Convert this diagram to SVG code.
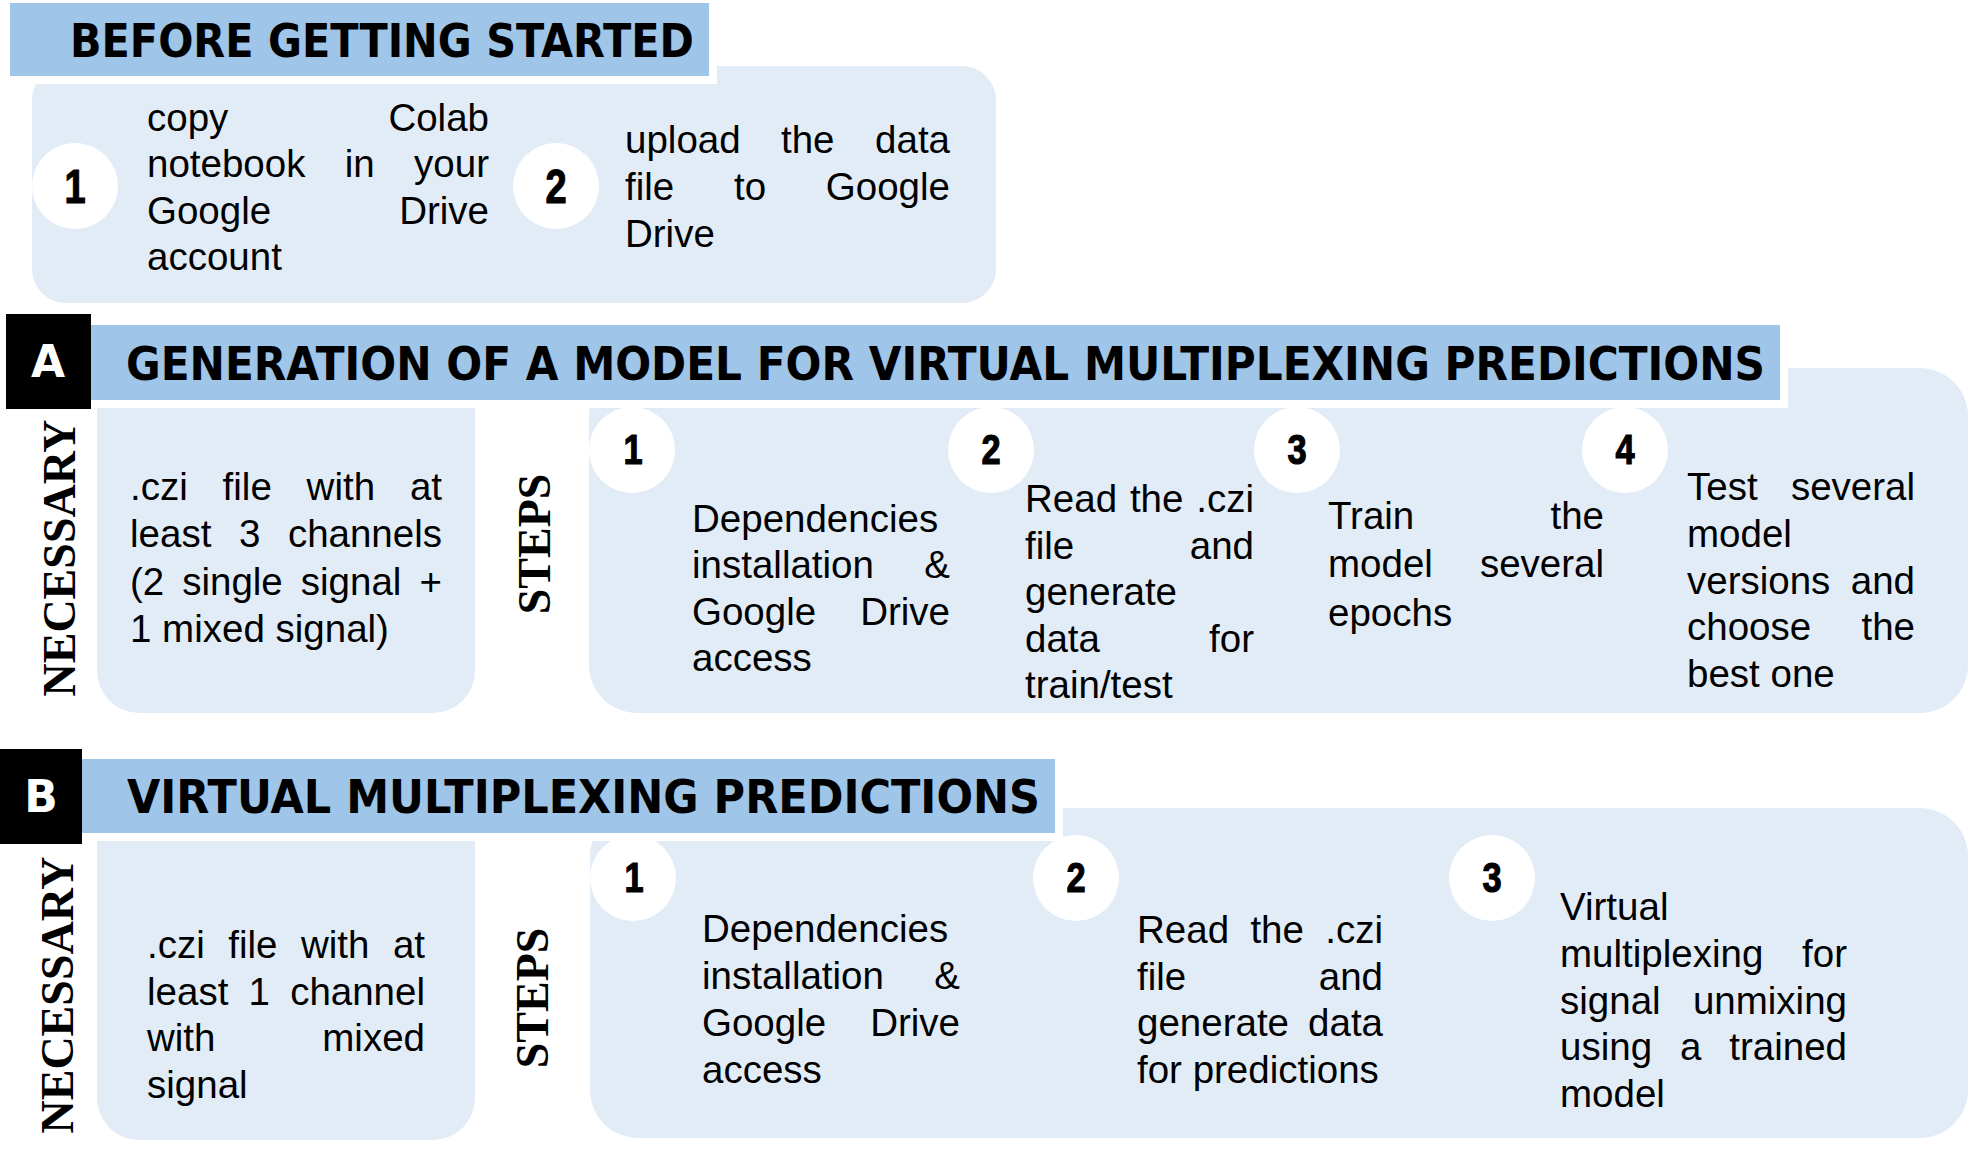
<svg xmlns="http://www.w3.org/2000/svg" width="1976" height="1150" viewBox="0 0 1976 1150">
<style>
.bg{fill:#ffffff}
.box{fill:#E2ECF7}
.ban{fill:#9FC5E8}
.wb{fill:#ffffff}
.blk{fill:#000000}
.circ{fill:#ffffff}
.t{font-family:"Liberation Sans",Arial,sans-serif;font-size:38.5px;fill:#000}
.e{text-anchor:end}
.hd{font-family:"DejaVu Sans",Verdana,sans-serif;font-weight:bold;font-size:46px;fill:#000}
.lt{font-family:"DejaVu Sans",Verdana,sans-serif;font-weight:bold;font-size:44px;fill:#fff;text-anchor:middle}
.vt{font-family:"Liberation Serif","Times New Roman",serif;font-weight:bold;font-size:46px;fill:#000;text-anchor:middle}
.num{font-family:"Liberation Sans",Arial,sans-serif;font-weight:bold;font-size:43px;fill:#000;stroke:#000;stroke-width:1.2;text-anchor:middle}
.numb{font-size:47.5px}
</style>
<rect class="bg" x="0" y="0" width="1976" height="1150"/>

<!-- BEFORE GETTING STARTED -->
<g id="before-box">
  <rect class="box" x="32" y="66" width="964" height="237" rx="34" ry="34"/>
</g>
<g id="before-header">
  <rect class="wb" x="2" y="-5" width="715" height="89"/>
  <rect class="ban" x="10" y="3" width="699" height="73"/>
  <text class="hd" x="70" y="56.5" textLength="624" lengthAdjust="spacingAndGlyphs">BEFORE GETTING STARTED</text>
</g>
<g id="before-step1">
  <circle class="circ" cx="75" cy="186" r="43"/>
  <text class="num numb" transform="translate(75,203) scale(0.8,1)">1</text>
  <text class="t" x="147" y="131">copy</text><text class="t e" x="489" y="131">Colab</text>
  <text class="t" y="177"><tspan x="147">notebook</tspan><tspan x="344.7">in</tspan></text><text class="t e" x="489" y="177">your</text>
  <text class="t" x="147" y="223.5">Google</text><text class="t e" x="489" y="223.5">Drive</text>
  <text class="t" x="147" y="270">account</text>
</g>
<g id="before-step2">
  <circle class="circ" cx="556" cy="186" r="43"/>
  <text class="num numb" transform="translate(556,203) scale(0.8,1)">2</text>
  <text class="t" y="153"><tspan x="625">upload</tspan><tspan x="781">the</tspan></text><text class="t e" x="950" y="153">data</text>
  <text class="t" y="200"><tspan x="625">file</tspan><tspan x="734">to</tspan></text><text class="t e" x="950" y="200">Google</text>
  <text class="t" x="625" y="247">Drive</text>
</g>

<!-- SECTION A -->
<g id="a-necessary">
  <rect class="box" x="97" y="370" width="378" height="343" rx="42" ry="42"/>
  <text class="vt" transform="translate(75,558) rotate(-90)">NECESSARY</text>
  <text class="t" y="500"><tspan x="130">.czi</tspan><tspan x="222.6">file</tspan><tspan x="306.6">with</tspan></text><text class="t e" x="442" y="500">at</text>
  <text class="t" y="547.3"><tspan x="130">least</tspan><tspan x="238.9">3</tspan></text><text class="t e" x="442" y="547.3">channels</text>
  <text class="t" y="594.6"><tspan x="130">(2</tspan><tspan x="182.2">single</tspan><tspan x="300.8">signal</tspan></text><text class="t e" x="442" y="594.6">+</text>
  <text class="t" x="130" y="642">1 mixed signal)</text>
</g>
<g id="a-steps-box">
  <rect class="box" x="589" y="368" width="1379" height="345" rx="48" ry="48"/>
  <text class="vt" transform="translate(550,544) rotate(-90)">STEPS</text>
</g>
<g id="a-header">
  <rect class="wb" x="83" y="317" width="1705" height="91"/>
  <rect class="blk" x="6" y="314" width="85" height="95"/>
  <text class="lt" x="48" y="377">A</text>
  <rect class="ban" x="91" y="325" width="1689" height="75"/>
  <text class="hd" x="126" y="380" textLength="1639" lengthAdjust="spacingAndGlyphs">GENERATION OF A MODEL FOR VIRTUAL MULTIPLEXING PREDICTIONS</text>
</g>
<g id="a-step1">
  <circle class="circ" cx="632" cy="450" r="43"/>
  <text class="num" transform="translate(633,464) scale(0.8,1)">1</text>
  <text class="t" x="692" y="532">Dependencies</text>
  <text class="t" x="692" y="578.3">installation</text><text class="t e" x="950" y="578.3">&amp;</text>
  <text class="t" x="692" y="624.6">Google</text><text class="t e" x="950" y="624.6">Drive</text>
  <text class="t" x="692" y="671">access</text>
</g>
<g id="a-step2">
  <circle class="circ" cx="991" cy="450" r="43"/>
  <text class="num" transform="translate(991,464) scale(0.8,1)">2</text>
  <text class="t" y="512"><tspan x="1025">Read</tspan><tspan x="1129.9">the</tspan></text><text class="t e" x="1254" y="512">.czi</text>
  <text class="t" x="1025" y="558.5">file</text><text class="t e" x="1254" y="558.5">and</text>
  <text class="t" x="1025" y="605">generate</text>
  <text class="t" x="1025" y="651.5">data</text><text class="t e" x="1254" y="651.5">for</text>
  <text class="t" x="1025" y="698">train/test</text>
</g>
<g id="a-step3">
  <circle class="circ" cx="1297" cy="450" r="43"/>
  <text class="num" transform="translate(1297,464) scale(0.8,1)">3</text>
  <text class="t" x="1328" y="528.5">Train</text><text class="t e" x="1604" y="528.5">the</text>
  <text class="t" x="1328" y="577">model</text><text class="t e" x="1604" y="577">several</text>
  <text class="t" x="1328" y="625.5">epochs</text>
</g>
<g id="a-step4">
  <circle class="circ" cx="1625" cy="450" r="43"/>
  <text class="num" transform="translate(1625,464) scale(0.8,1)">4</text>
  <text class="t" x="1687" y="500">Test</text><text class="t e" x="1915" y="500">several</text>
  <text class="t" x="1687" y="546.8">model</text>
  <text class="t" x="1687" y="593.6">versions</text><text class="t e" x="1915" y="593.6">and</text>
  <text class="t" x="1687" y="640.4">choose</text><text class="t e" x="1915" y="640.4">the</text>
  <text class="t" x="1687" y="687.2">best one</text>
</g>

<!-- SECTION B -->
<g id="b-necessary">
  <rect class="box" x="97" y="800" width="378" height="340" rx="42" ry="42"/>
  <text class="vt" transform="translate(73,995) rotate(-90)">NECESSARY</text>
  <text class="t" y="958"><tspan x="147">.czi</tspan><tspan x="228.3">file</tspan><tspan x="301">with</tspan></text><text class="t e" x="425" y="958">at</text>
  <text class="t" y="1004.5"><tspan x="147">least</tspan><tspan x="248.6">1</tspan></text><text class="t e" x="425" y="1004.5">channel</text>
  <text class="t" x="147" y="1051">with</text><text class="t e" x="425" y="1051">mixed</text>
  <text class="t" x="147" y="1097.5">signal</text>
</g>
<g id="b-steps-box">
  <rect class="box" x="590" y="808" width="1378" height="330" rx="48" ry="48"/>
  <text class="vt" transform="translate(548,998) rotate(-90)">STEPS</text>
</g>
<g id="b-header">
  <rect class="wb" x="74" y="751" width="989" height="90"/>
  <rect class="blk" x="0" y="749" width="82" height="95"/>
  <text class="lt" x="41" y="812">B</text>
  <rect class="ban" x="82" y="759" width="973" height="74"/>
  <text class="hd" x="127" y="813" textLength="913" lengthAdjust="spacingAndGlyphs">VIRTUAL MULTIPLEXING PREDICTIONS</text>
</g>
<g id="b-step1">
  <circle class="circ" cx="633" cy="878" r="43"/>
  <text class="num" transform="translate(634,892) scale(0.8,1)">1</text>
  <text class="t" x="702" y="942">Dependencies</text>
  <text class="t" x="702" y="989">installation</text><text class="t e" x="960" y="989">&amp;</text>
  <text class="t" x="702" y="1036">Google</text><text class="t e" x="960" y="1036">Drive</text>
  <text class="t" x="702" y="1083">access</text>
</g>
<g id="b-step2">
  <circle class="circ" cx="1076" cy="878" r="43"/>
  <text class="num" transform="translate(1076,892) scale(0.8,1)">2</text>
  <text class="t" y="943"><tspan x="1137">Read</tspan><tspan x="1250.4">the</tspan></text><text class="t e" x="1383" y="943">.czi</text>
  <text class="t" x="1137" y="989.7">file</text><text class="t e" x="1383" y="989.7">and</text>
  <text class="t" x="1137" y="1036.3">generate</text><text class="t e" x="1383" y="1036.3">data</text>
  <text class="t" x="1137" y="1083">for predictions</text>
</g>
<g id="b-step3">
  <circle class="circ" cx="1492" cy="878" r="43"/>
  <text class="num" transform="translate(1492,892) scale(0.8,1)">3</text>
  <text class="t" x="1560" y="920">Virtual</text>
  <text class="t" x="1560" y="966.8">multiplexing</text><text class="t e" x="1847" y="966.8">for</text>
  <text class="t" x="1560" y="1013.5">signal</text><text class="t e" x="1847" y="1013.5">unmixing</text>
  <text class="t" y="1060.3"><tspan x="1560">using</tspan><tspan x="1680">a</tspan></text><text class="t e" x="1847" y="1060.3">trained</text>
  <text class="t" x="1560" y="1107">model</text>
</g>
<g id="connectors"/>
</svg>
